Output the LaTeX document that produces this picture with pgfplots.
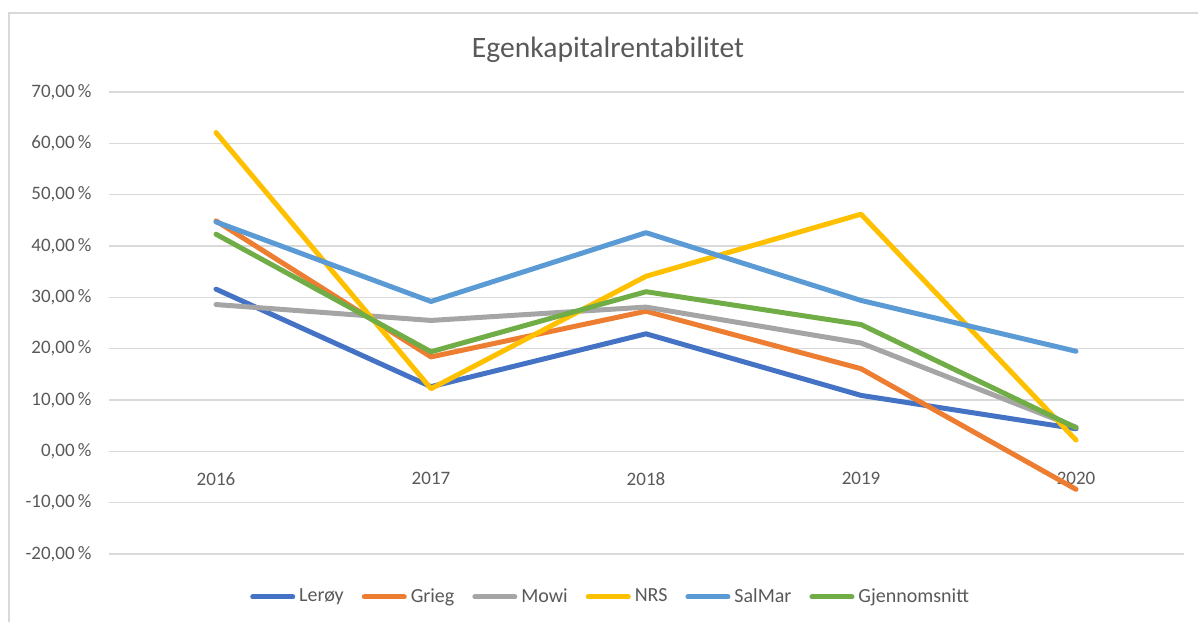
\documentclass[border=0pt]{standalone}
\usepackage{fontspec}
\setmainfont{Carlito}
\usepackage{pgfplots}
\pgfplotsset{compat=1.18}

\definecolor{cLeroy}{HTML}{4472C4}
\definecolor{cGrieg}{HTML}{ED7D31}
\definecolor{cMowi}{HTML}{A5A5A5}
\definecolor{cNRS}{HTML}{FFC000}
\definecolor{cSalmar}{HTML}{5B9BD5}
\definecolor{cSnitt}{HTML}{70AD47}
\definecolor{gridgray}{HTML}{D9D9D9}
\definecolor{txtgray}{HTML}{595959}

\begin{document}
\begin{tikzpicture}
\useasboundingbox (0,0) rectangle (599pt,311pt);
% chart frame (only top and left edge visible in the screenshot)
\draw[gridgray, line width=0.6pt] (4.5pt,0) -- (4.5pt,304.5pt) -- (599pt,304.5pt);
\node[txtgray, font=\fontsize{14.8}{16}\selectfont] at (304pt,286pt) {Egenkapitalrentabilitet};
\begin{axis}[
  at={(54.25pt,34pt)}, anchor=south west,
  scale only axis, width=537.5pt, height=231pt,
  xmin=-0.5, xmax=4.5, ymin=-20, ymax=70,
  axis x line*=middle, axis y line*=left,
  hide obscured x ticks=false, hide obscured y ticks=false,
  x axis line style={draw=gridgray, line width=0.6pt, -},
  y axis line style={draw=none},
  xtick={0,1,2,3,4}, xticklabels={2016,2017,2018,2019,2020},
  ytick={-20,-10,...,70},
  major tick length=0pt,
  ymajorgrids, grid style={gridgray, line width=0.6pt},
  /pgf/number format/assume math mode=true,
  yticklabel={\pgfmathprintnumber[fixed,fixed zerofill,precision=2,use comma]{\tick}\,\%},
  tick label style={txtgray, font=\fontsize{9.5}{11}\selectfont},
  xticklabel style={yshift=-7pt},
  yticklabel style={xshift=-5pt},
  every axis plot/.append style={line width=2.5pt, line cap=round, line join=round},
  legend style={at={(0.468,-0.093)}, anchor=center, draw=none, fill=none,
                legend columns=-1, font=\fontsize{10}{11}\selectfont,
                text=txtgray,
                /tikz/every odd column/.append style={column sep=0pt},
                /tikz/every even column/.append style={column sep=7pt}},
  legend image code/.code={\draw[#1, line width=2.5pt, line cap=round] (0pt,0pt) -- (20pt,0pt);},
]
\addplot[cLeroy]  coordinates {(0,31.6)(1,12.6)(2,22.9)(3,10.9)(4,4.4)};
\addplot[cGrieg]  coordinates {(0,44.9)(1,18.4)(2,27.3)(3,16.1)(4,-7.4)};
\addplot[cMowi]   coordinates {(0,28.6)(1,25.5)(2,28.1)(3,21.1)(4,4.7)};
\addplot[cNRS]    coordinates {(0,62.1)(1,12.2)(2,34.1)(3,46.2)(4,2.2)};
\addplot[cSalmar] coordinates {(0,44.7)(1,29.2)(2,42.6)(3,29.4)(4,19.5)};
\addplot[cSnitt]  coordinates {(0,42.3)(1,19.4)(2,31.1)(3,24.7)(4,4.6)};
\legend{Lerøy,Grieg,Mowi,NRS,SalMar,Gjennomsnitt}
\end{axis}
\end{tikzpicture}
\end{document}
